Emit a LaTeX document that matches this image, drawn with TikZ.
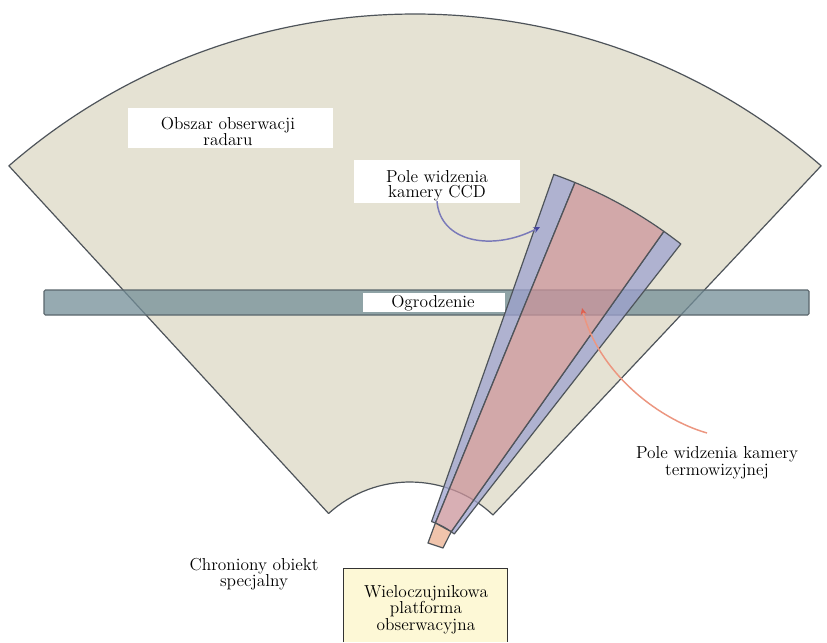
\documentclass[tikz,border=0pt]{standalone}
\usetikzlibrary{arrows.meta,calc}
\definecolor{beige}{RGB}{229,226,211}
\definecolor{edge}{RGB}{78,84,90}
\definecolor{fencec}{RGB}{115,142,152}
\definecolor{fenceedge}{RGB}{90,102,108}
\definecolor{ccdc}{RGB}{158,162,207}
\definecolor{thermc}{RGB}{204,149,156}
\definecolor{tipc}{RGB}{240,196,172}
\definecolor{ccdarrow}{RGB}{122,122,185}
\definecolor{ccdhead}{RGB}{70,70,160}
\definecolor{thermarrow}{RGB}{236,150,128}
\definecolor{thermhead}{RGB}{222,96,80}
\definecolor{platc}{RGB}{253,248,214}
\begin{document}
\begin{tikzpicture}[x=0.75pt,y=-0.75pt,
  outline/.style={draw=edge,line width=0.9pt,line join=round},
  txt/.style={font=\fontsize{13}{11.5}\selectfont,align=center,inner sep=0pt,text=black},
  freetxt/.style={font=\fontsize{13}{12.5}\selectfont,align=center,inner sep=0pt,text=black},
  ccdlink/.style={draw=ccdarrow,line width=1.1pt,-{Stealth[length=5pt,width=4.5pt,color=ccdhead]}},
  thermlink/.style={draw=thermarrow,line width=1.1pt,-{Stealth[length=5pt,width=4.5pt,color=thermhead]}}
]
\useasboundingbox (0,0) rectangle (827,642);
\fill[white] (0,0) rectangle (827,642);

% centres
\coordinate (R1) at (415,633);
\coordinate (R2) at (410,603);
\coordinate (K) at (405,597);

% radar observation sector
\path[fill=beige,outline] ($(R2)+(-132.3:121)$) -- ($(R1)+(-131:619)$)
  arc[start angle=-131,end angle=-49,radius=619]
  -- ($(R2)+(-46.7:121)$)
  arc[start angle=-46.7,end angle=-132.3,radius=121] -- cycle;

% fence
\path[fill=fencec,fill opacity=0.75,draw=fenceedge,line width=0.8pt,rounded corners=1pt]
  (44,290) rectangle (809,315);

% CCD field of view (two side strips) and thermal field of view
\path[fill=ccdc,fill opacity=0.75,outline] ($(K)+(-70.6:80)$) -- ($(K)+(-70.6:448)$)
  arc[start angle=-70.6,end angle=-67.7,radius=448] -- ($(K)+(-67.7:80)$)
  arc[start angle=-67.7,end angle=-70.6,radius=80] -- cycle;
\path[fill=ccdc,fill opacity=0.75,outline] ($(K)+(-54.7:80)$) -- ($(K)+(-54.7:448)$)
  arc[start angle=-54.7,end angle=-52,radius=448] -- ($(K)+(-52:80)$)
  arc[start angle=-52,end angle=-54.7,radius=80] -- cycle;
\path[fill=thermc,fill opacity=0.75,outline] ($(K)+(-67.7:80)$) -- ($(K)+(-67.7:448)$)
  arc[start angle=-67.7,end angle=-54.7,radius=448] -- ($(K)+(-54.7:80)$)
  arc[start angle=-54.7,end angle=-67.7,radius=80] -- cycle;
\path[fill=tipc,outline] ($(K)+(-67.7:80)$) -- ($(K)+(-54.7:80)$) -- (443,548) -- (428,543) -- cycle;

% label backgrounds
\fill[white] (128,108) rectangle (333,148);
\fill[white] (354,160) rectangle (520,203);
\fill[white] (363,293) rectangle (505,312);
\fill[platc] (343,568) rectangle (507,642);
\draw[draw=black!80,line width=0.7pt] (343,642) -- (343,568) -- (507,568) -- (507,642);

% labels
\node[txt] (obszar) at (228,131.5) {Obszar obserwacji\\radaru};
\node[txt] (ccd) at (437,185.5) {Pole widzenia\\kamery CCD};
\node[txt] (fence) at (433,303) {Ogrodzenie};
\node[freetxt] (therm) at (717,463) {Pole widzenia kamery\\termowizyjnej};
\node[freetxt] (obiekt) at (254,574) {Chroniony obiekt\\specjalny};
\node[freetxt] (platform) at (426,609.5) {Wieloczujnikowa\\platforma\\obserwacyjna};

% connectors
\coordinate (ccdend) at (540,227);
\coordinate (thermstart) at (707,433);
\coordinate (thermend) at (582,308);
\draw[ccdlink] (ccd.south) .. controls (440,242) and (492,252) .. (ccdend);
\draw[thermlink] (thermstart) .. controls (655,418) and (598,370) .. (thermend);
\end{tikzpicture}
\end{document}
